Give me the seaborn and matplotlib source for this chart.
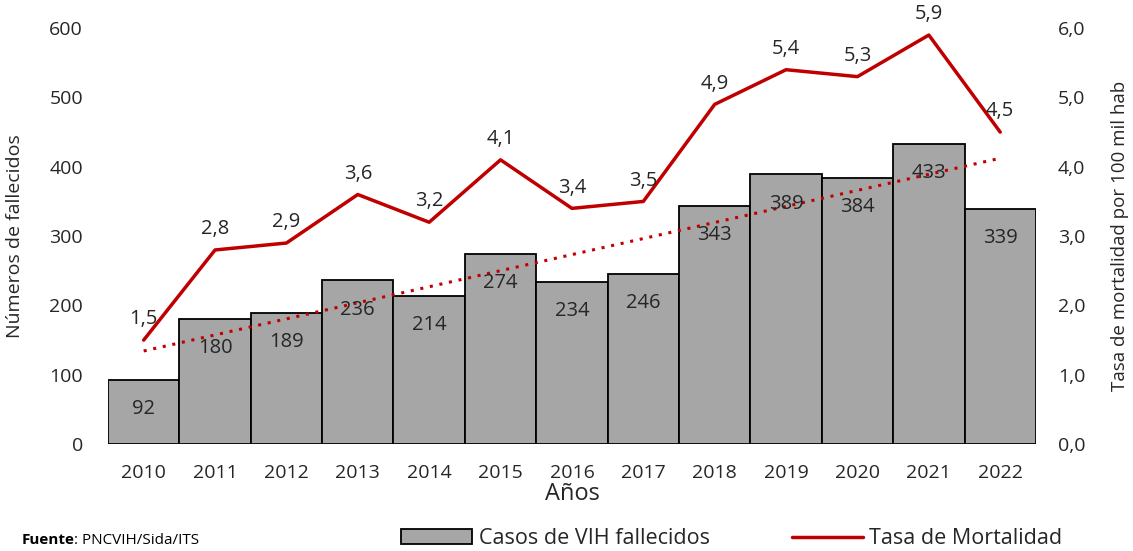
import numpy as np
import pandas as pd
import matplotlib
matplotlib.use('Agg')
import matplotlib.pyplot as plt
import seaborn as sns
from matplotlib.patches import Patch
from matplotlib.lines import Line2D

# Datos
anios = ['2010', '2011', '2012', '2013', '2014', '2015', '2016',
         '2017', '2018', '2019', '2020', '2021', '2022']
casos = [92, 180, 189, 236, 214, 274, 234, 246, 343, 389, 384, 433, 339]
tasa = [1.5, 2.8, 2.9, 3.6, 3.2, 4.1, 3.4, 3.5, 4.9, 5.4, 5.3, 5.9, 4.5]

df = pd.DataFrame({'Año': anios, 'Casos': casos, 'Tasa': tasa})
df['pos'] = np.arange(len(df))

sns.set_style('white')
plt.rcParams['font.family'] = ['Open Sans', 'DejaVu Sans']

rojo = '#c00000'
gris = '#a6a6a6'
texto = '#262626'

fig = plt.figure(figsize=(11.33, 5.51), dpi=100)
ax = fig.add_axes([0.0953, 0.194, 0.819, 0.755])

# Barras
sns.barplot(data=df, x='Año', y='Casos', color=gris, width=1.0,
            edgecolor='black', linewidth=1.3, saturation=1, ax=ax)

for p, v in zip(ax.patches, casos):
    ax.text(p.get_x() + p.get_width() / 2, v - 42, f'{v}',
            ha='center', va='center', fontsize=14.5, color=texto)

# Línea de tendencia (lineal) sobre los casos
sns.regplot(x=df['pos'], y=df['Casos'], scatter=False, ci=None,
            truncate=True, ax=ax,
            line_kws={'color': rojo, 'linestyle': (0, (1, 2.2)), 'linewidth': 2.2})

ax.set_ylim(0, 600)
ax.set_xlim(-0.5, 12.5)
ax.set_yticks(range(0, 601, 100))
ax.set_xlabel('Años', fontsize=17, color=texto, labelpad=0)
ax.set_ylabel('Números de fallecidos', fontsize=14, color=texto)
ax.yaxis.set_label_coords(-0.09, 0.5)
ax.tick_params(axis='both', labelsize=14, colors=texto, length=0)
ax.tick_params(axis='x', pad=14)
ax.tick_params(axis='y', pad=18)
for s in ax.spines.values():
    s.set_visible(False)

# Eje secundario: tasa
ax2 = ax.twinx()
sns.lineplot(x=df['pos'], y=df['Tasa'], color=rojo, linewidth=2.5, ax=ax2)
for x, v in zip(df['pos'], tasa):
    ax2.text(x, v + 0.3, f'{v:.1f}'.replace('.', ','),
             ha='center', va='center', fontsize=14.5, color=texto)

ax2.set_ylim(0, 6)
ax2.set_yticks(np.arange(0, 6.1, 1))
ax2.set_yticklabels([f'{t:.1f}'.replace('.', ',') for t in np.arange(0, 6.1, 1)])
ax2.set_ylabel('Tasa de mortalidad por 100 mil hab', fontsize=13.5, color=texto)
ax2.yaxis.set_label_coords(1.081, 0.5)
ax2.tick_params(axis='y', labelsize=14, colors=texto, length=0, pad=16)
for s in ax2.spines.values():
    s.set_visible(False)
ax2.set_xlim(-0.5, 12.5)

# Leyenda
handles = [Patch(facecolor=gris, edgecolor='black', linewidth=1.3),
           Line2D([], [], color=rojo, linewidth=2.5)]
fig.legend(handles, ['Casos de VIH fallecidos', 'Tasa de Mortalidad'],
           loc='center', bbox_to_anchor=(0.646, 0.022), ncol=2, frameon=False,
           fontsize=15.5, handlelength=3.3, columnspacing=3.8,
           handletextpad=0.3, labelcolor=texto)

# Fuente
t1 = fig.text(0.019, 0.013, 'Fuente', fontsize=11, fontweight='bold', color='black')
fig.canvas.draw()
bb = t1.get_window_extent().transformed(fig.transFigure.inverted())
fig.text(bb.x1, 0.013, ': PNCVIH/Sida/ITS', fontsize=11, color='black')

fig.savefig('out.png', dpi=100)
